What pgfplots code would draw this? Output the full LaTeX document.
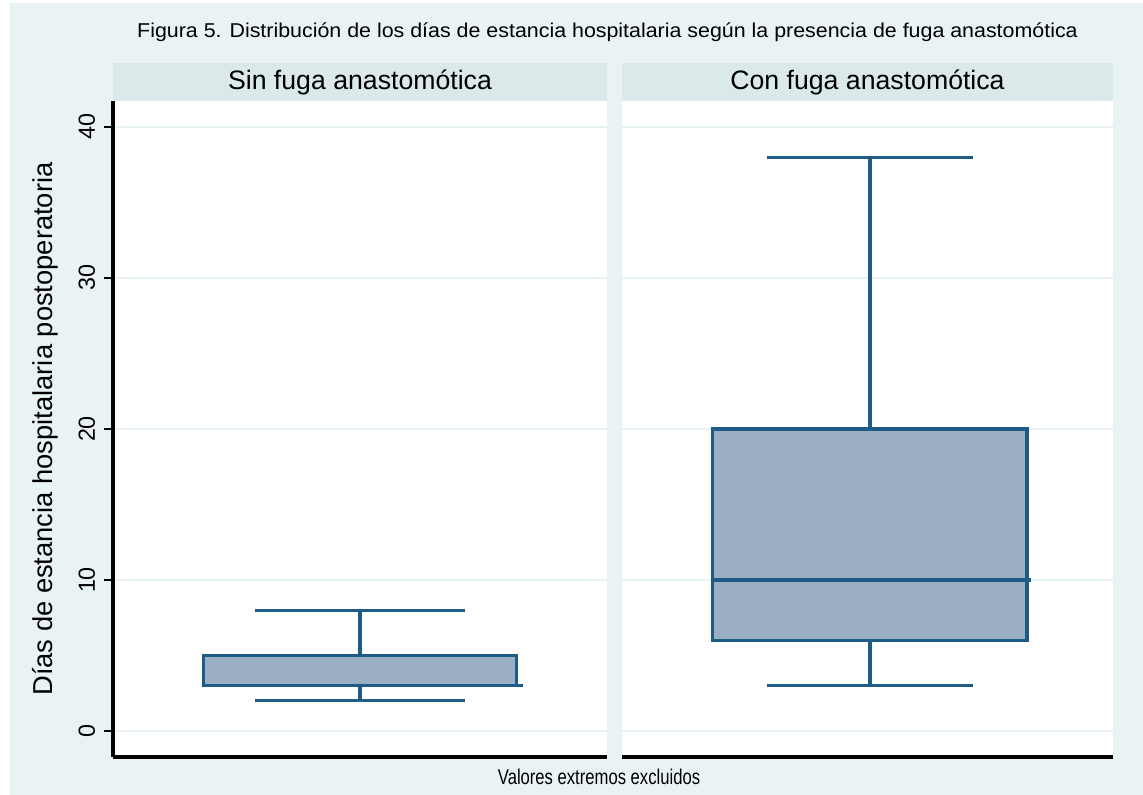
\documentclass[border=0pt]{standalone}
\usepackage{fontspec}
\setmainfont{Liberation Sans}
\usepackage{graphicx}
\usepackage{pgfplots}
\pgfplotsset{compat=1.18}

\definecolor{bgcol}{HTML}{EAF3F4}
\definecolor{stripcol}{HTML}{DBE9EA}
\definecolor{boxfill}{HTML}{9AAEC4}
\definecolor{boxline}{HTML}{1F5B87}

\pgfplotsset{
  panel/.style={
    anchor=south west,
    scale only axis, height=492pt,
    xmin=-1, xmax=1, ymin=-1.72, ymax=41.72,
    axis x line*=bottom, axis y line*=left,
    xtick=\empty, ytick={0,10,20,30,40},
    ymajorgrids, grid style={bgcol, line width=1.5pt},
    axis line style={black, line width=2.3pt, -},
    tick align=outside, major tick length=6.75pt,
    ytick style={black, line width=1.8pt},
    yticklabel style={rotate=90, anchor=south, inner sep=6.5pt,
      font=\fontsize{17.5}{17.5}\selectfont},
    /pgf/number format/assume math mode=true,
    axis background/.style={fill=white},
  },
  boxsty/.style={fill=boxfill, draw=boxline, line width=2.4pt, line join=miter},
  linesty/.style={draw=boxline, line width=2.4pt},
}

\begin{document}
\begin{tikzpicture}
  % page and backgrounds
  \begin{scope}[x=0.75pt, y=-0.75pt]
    \fill[white] (0,0) rectangle (1143,795);
    \fill[bgcol] (10,3) rectangle (1143,795);
    \fill[stripcol] (113,63) rectangle (607,101);
    \fill[stripcol] (622,63) rectangle (1113,101);
  \end{scope}

  % panel: sin fuga (whiskers 2 / 8, quartiles 3 / 5, median 3)
  \begin{axis}[panel, at={(84.75pt,-567.75pt)}, width=370.5pt]
    \addplot[linesty] coordinates {(0,5) (0,8)};
    \addplot[linesty] coordinates {(-0.425,8) (0.425,8)};
    \addplot[linesty] coordinates {(0,3) (0,2)};
    \addplot[linesty] coordinates {(-0.425,2) (0.425,2)};
    \addplot[boxsty] coordinates {(-0.635,3) (0.635,3) (0.635,5) (-0.635,5)} -- cycle;
    \addplot[linesty] coordinates {(-0.635,3) (0.66,3)};
  \end{axis}

  % panel: con fuga (whiskers 3 / 38, quartiles 6 / 20, median 10)
  \begin{axis}[panel, at={(466.5pt,-567.75pt)}, width=368.25pt,
      y axis line style={draw=none}, ytick style={draw=none}, yticklabels={}]
    \addplot[linesty] coordinates {(0.01,20) (0.01,38)};
    \addplot[linesty] coordinates {(-0.41,38) (0.43,38)};
    \addplot[linesty] coordinates {(0.01,6) (0.01,3)};
    \addplot[linesty] coordinates {(-0.41,3) (0.43,3)};
    \addplot[boxsty] coordinates {(-0.63,6) (0.65,6) (0.65,20) (-0.63,20)} -- cycle;
    \addplot[linesty] coordinates {(-0.63,10) (0.665,10)};
  \end{axis}

  \begin{scope}[x=0.75pt, y=-0.75pt]
    \node[font=\fontsize{15}{15}\selectfont] at (607.5,32)
      {\scalebox{1.07}[1]{Figura 5. Distribución de los días de estancia hospitalaria según la presencia de fuga anastomótica}};
    \node[font=\fontsize{20}{20}\selectfont] at (360,82) {Sin fuga anastomótica};
    \node[font=\fontsize{20}{20}\selectfont] at (867.5,82) {Con fuga anastomótica};
    \node[font=\fontsize{20.5}{20.5}\selectfont, rotate=90] at (45,429)
      {Días de estancia hospitalaria postoperatoria};
    \node[font=\fontsize{16}{16}\selectfont] at (599,777)
      {\scalebox{0.78}[1]{Valores extremos excluidos}};
  \end{scope}
\end{tikzpicture}
\end{document}
